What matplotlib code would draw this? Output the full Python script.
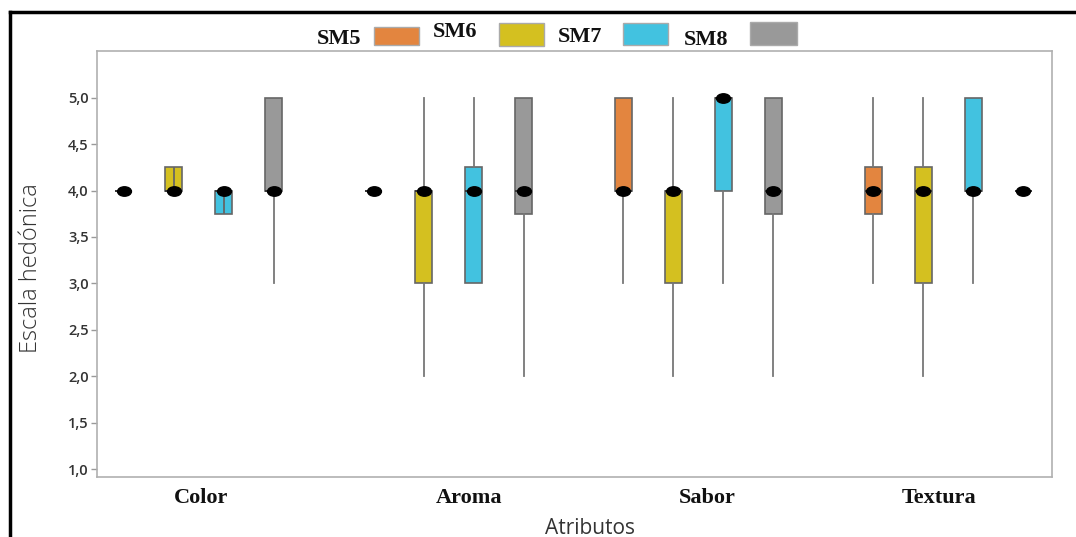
import matplotlib
matplotlib.use("Agg")
import matplotlib.pyplot as plt
import matplotlib.path as mpath
from matplotlib.lines import Line2D
from matplotlib.patches import Rectangle
import numpy as np

# ---------------- data ----------------
attributes = ["Color", "Aroma", "Sabor", "Textura"]
series = ["SM5", "SM6", "SM7", "SM8"]
colors = ["#E3853F", "#D4C020", "#42C2E0", "#999999"]

# per series: values for Color, Aroma, Sabor, Textura
q1 = {
    "SM5": [4.0, 4.0, 4.0, 3.75],
    "SM6": [4.0, 3.0, 3.0, 3.0],
    "SM7": [3.75, 3.0, 4.0, 4.0],
    "SM8": [4.0, 3.75, 3.75, 4.0],
}
median = {
    "SM5": [4.0, 4.0, 4.0, 4.0],
    "SM6": [4.0, 4.0, 4.0, 4.0],
    "SM7": [4.0, 4.0, 5.0, 4.0],
    "SM8": [4.0, 4.0, 4.0, 4.0],
}
q3 = {
    "SM5": [4.0, 4.0, 5.0, 4.25],
    "SM6": [4.25, 4.0, 4.0, 4.25],
    "SM7": [4.0, 4.25, 5.0, 5.0],
    "SM8": [5.0, 5.0, 5.0, 4.0],
}
whisker_low = {
    "SM5": [4.0, 4.0, 3.0, 3.0],
    "SM6": [4.0, 2.0, 2.0, 2.0],
    "SM7": [3.75, 3.0, 3.0, 3.0],
    "SM8": [3.0, 2.0, 2.0, 4.0],
}
whisker_high = {
    "SM5": [4.0, 4.0, 5.0, 5.0],
    "SM6": [4.25, 5.0, 5.0, 5.0],
    "SM7": [4.0, 5.0, 5.0, 5.0],
    "SM8": [5.0, 5.0, 5.0, 4.0],
}
yticks = [1.0, 1.5, 2.0, 2.5, 3.0, 3.5, 4.0, 4.5, 5.0]

# ---------------- figure ----------------
W, H = 1076, 537
fig = plt.figure(figsize=(W / 100, H / 100), dpi=100)
fig.patch.set_facecolor("white")


def fx(px):
    return px / W


def fy(py):
    return 1 - py / H


ax = fig.add_axes([fx(97), fy(477), fx(1052) - fx(97), fy(51) - fy(477)])

box_w = 0.34
edge = "#666666"
whisk = "#777777"

# ellipse marker for medians
circ = mpath.Path.unit_circle()
ell = mpath.Path(circ.vertices * np.array([1.0, 0.68]), circ.codes)

for j, s in enumerate(series):
    stats = []
    positions = []
    for i, a in enumerate(attributes):
        stats.append(dict(med=median[s][i], q1=q1[s][i], q3=q3[s][i],
                          whislo=whisker_low[s][i], whishi=whisker_high[s][i],
                          fliers=[], label=a))
        positions.append(i * 5 + j)
    ax.bxp(stats, positions=positions, widths=box_w, patch_artist=True,
           showcaps=False, showfliers=False,
           boxprops=dict(facecolor=colors[j], edgecolor=edge, linewidth=1.2),
           whiskerprops=dict(color=whisk, linewidth=1.3),
           medianprops=dict(color="#333333", linewidth=1.3),
           manage_ticks=False)
    for i in range(len(attributes)):
        pos = i * 5 + j
        # narrow boxes whose whiskers coincide with the box show the line through it
        if (whisker_low[s][i] == q1[s][i] and whisker_high[s][i] == q3[s][i]
                and q3[s][i] > q1[s][i]):
            ax.vlines(pos, q1[s][i], q3[s][i], color=edge, linewidth=1.3, zorder=3)
    ax.plot([i * 5 + j for i in range(len(attributes))], median[s],
            linestyle="none", marker=ell, markersize=10, color="black", zorder=5)

ax.set_xlim(-0.54, 18.58)
ax.set_ylim(0.914, 5.504)
ax.set_yticks(yticks)
ax.set_yticklabels([f"{v:.1f}".replace(".", ",") for v in yticks],
                   fontsize=10.5, color="#333333", family="Open Sans",
                   fontweight="semibold")
ax.tick_params(axis="y", length=4, width=1, color="#999999", pad=2)

label_pos = [1.54, 6.91, 11.67, 16.32]
ax.set_xticks(label_pos)
ax.set_xticklabels(attributes, fontsize=16, fontweight="bold",
                   family="Liberation Serif", color="#111111")
ax.tick_params(axis="x", length=0, pad=8)

for sp in ax.spines.values():
    sp.set_color("#b0b0b0")
    sp.set_linewidth(1.2)

fig.text(fx(590), fy(528), "Atributos", ha="center", va="center",
         fontsize=15, color="#333333", family="Open Sans")
fig.text(fx(31), fy(268), "Escala hedónica", ha="center", va="center",
         rotation=90, fontsize=17, color="#333333", family="Open Sans",
         fontweight="light")

# legend (manual, as in the reference)
leg_text = [(339, 39), (455, 32), (580, 37), (706, 40)]
leg_box = [(374, 419, 27, 45), (499, 544, 23, 46), (623, 668, 23, 45), (750, 797, 22, 45)]
for j, s in enumerate(series):
    tx, ty = leg_text[j]
    fig.text(fx(tx), fy(ty), s, ha="center", va="center", fontsize=16,
             fontweight="bold", family="Liberation Serif", color="#111111")
    x0, x1, y0, y1 = leg_box[j]
    fig.add_artist(Rectangle((fx(x0), fy(y1)), fx(x1) - fx(x0), fy(y0) - fy(y1),
                             transform=fig.transFigure, facecolor=colors[j],
                             edgecolor="#aaaaaa", linewidth=1))

# frame lines (left and top)
fig.add_artist(Line2D([fx(10), fx(10)], [0, fy(12)], transform=fig.transFigure,
                      color="black", linewidth=2.5))
fig.add_artist(Line2D([fx(10), 1], [fy(12), fy(12)], transform=fig.transFigure,
                      color="black", linewidth=2.5))

fig.savefig("out.png", dpi=100)
